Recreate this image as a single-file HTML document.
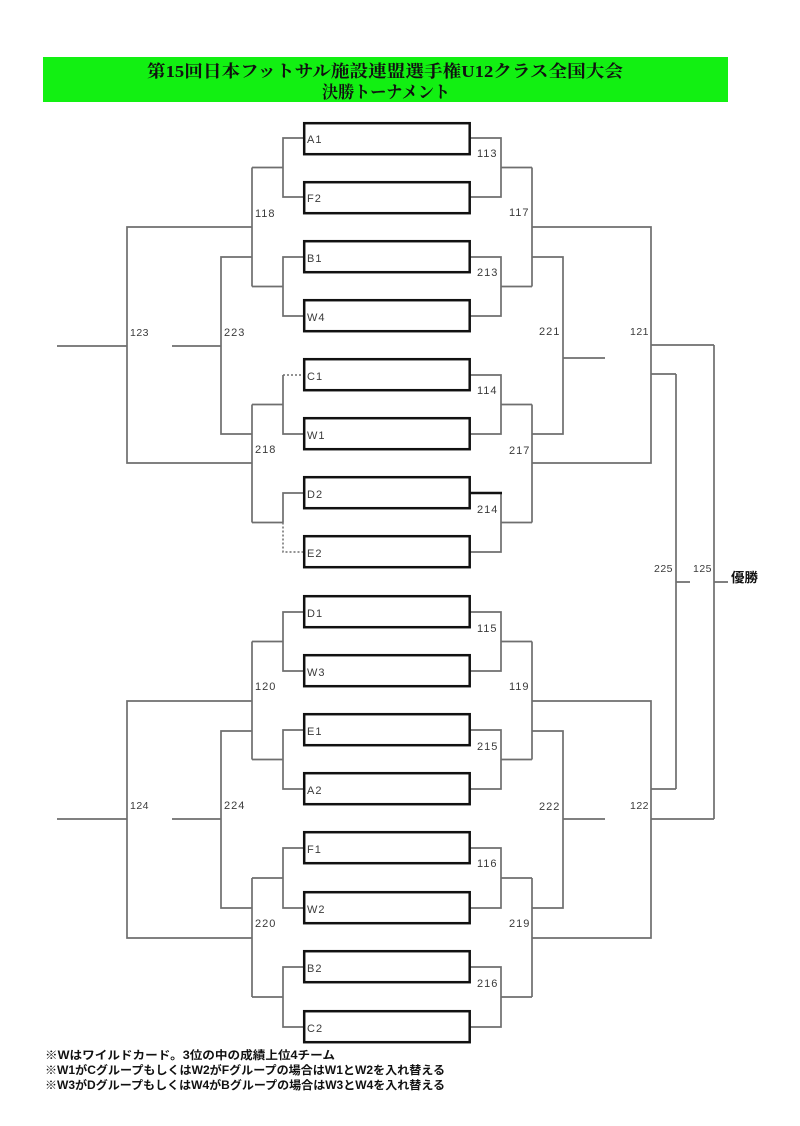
<!DOCTYPE html>
<html><head><meta charset="utf-8"><style>
html,body{margin:0;padding:0;background:#fff;}
svg{display:block;}
.ln{fill:none;stroke:#6e6e6e;stroke-width:1.7;}
.dt{fill:none;stroke:#6e6e6e;stroke-width:1.5;stroke-dasharray:2 2;}
.bx{fill:#fff;stroke:#111;stroke-width:2.5;}
.lb{font-family:"Liberation Sans",sans-serif;font-size:11px;fill:#3a3a3a;letter-spacing:1px;}
.nm{font-family:"Liberation Sans",sans-serif;font-size:11px;fill:#3a3a3a;letter-spacing:1px;}
.nm2{font-family:"Liberation Sans",sans-serif;font-size:10.5px;fill:#3a3a3a;letter-spacing:0.5px;}
.tt{font-family:"Liberation Serif","Noto Serif CJK SC",serif;font-weight:bold;font-size:17px;fill:#111;}
.nt{font-family:"Liberation Sans","Noto Sans CJK JP",sans-serif;font-weight:bold;font-size:11.5px;fill:#111;}
</style></head><body>
<svg width="800" height="1126" viewBox="0 0 800 1126" xmlns="http://www.w3.org/2000/svg">
<!-- title -->
<rect x="43" y="57" width="685" height="45" fill="#12f012"/>
<text class="tt" x="147" y="77" textLength="476" lengthAdjust="spacingAndGlyphs">第15回日本フットサル施設連盟選手権U12クラス全国大会</text>
<text class="tt" x="322" y="98" textLength="128" lengthAdjust="spacingAndGlyphs">決勝トーナメント</text>

<!-- left connectors -->
<path class="ln" d="M304,138 H283 V197 H304 M283,167.5 H252
M304,257 H283 V316 H304 M283,286.5 H252
M252,167.5 V286.5
M283,375 V434 H304 M283,404.5 H252
M304,493 H283 V522.5 M283,522.5 H252
M252,404.5 V522.5
M252,227 H127 V463 H252 M57,346 H127
M252,257 H221 V434 H252 M172,346 H221
M304,612 H283 V671 H304 M283,641.5 H252
M304,730 H283 V789 H304 M283,759.5 H252
M252,641.5 V759.5
M304,848 H283 V908 H304 M283,878 H252
M304,967 H283 V1027 H304 M283,997 H252
M252,878 V997
M252,701 H127 V938 H252 M57,819 H127
M252,731 H221 V908 H252 M172,819 H221"/>
<path class="dt" d="M283,375 H304 M283,522.5 V552 H304"/>

<!-- right connectors -->
<path class="ln" d="M470,138 H501 V197 H470 M501,167.5 H532
M470,257 H501 V316 H470 M501,286.5 H532
M532,167.5 V286.5
M470,375 H501 V434 H470 M501,404.5 H532
M501,493 V552 H470 M501,522.5 H532
M532,404.5 V522.5
M532,227 H651 V463 H532 M651,345 H714 M651,374 H676
M532,257 H563 V434 H532 M563,358 H605
M470,612 H501 V671 H470 M501,641.5 H532
M470,730 H501 V789 H470 M501,759.5 H532
M532,641.5 V759.5
M470,848 H501 V908 H470 M501,878 H532
M470,967 H501 V1027 H470 M501,997 H532
M532,878 V997
M532,701 H651 V938 H532 M651,789 H676 M651,819 H714
M532,731 H563 V908 H532 M563,819 H605
M676,374 V789 M676,582 H690
M714,345 V819 M714,582 H728"/>
<path d="M470,493 H502" stroke="#111" stroke-width="2.4" fill="none"/>

<!-- boxes -->
<g>
<rect class="bx" x="304.2" y="123.2" width="165.5" height="31"/>
<rect class="bx" x="304.2" y="182.2" width="165.5" height="31"/>
<rect class="bx" x="304.2" y="241.2" width="165.5" height="31"/>
<rect class="bx" x="304.2" y="300.2" width="165.5" height="31"/>
<rect class="bx" x="304.2" y="359.2" width="165.5" height="31"/>
<rect class="bx" x="304.2" y="418.2" width="165.5" height="31"/>
<rect class="bx" x="304.2" y="477.2" width="165.5" height="31"/>
<rect class="bx" x="304.2" y="536.2" width="165.5" height="31"/>
<rect class="bx" x="304.2" y="596.2" width="165.5" height="31"/>
<rect class="bx" x="304.2" y="655.2" width="165.5" height="31"/>
<rect class="bx" x="304.2" y="714.2" width="165.5" height="31"/>
<rect class="bx" x="304.2" y="773.2" width="165.5" height="31"/>
<rect class="bx" x="304.2" y="832.2" width="165.5" height="31"/>
<rect class="bx" x="304.2" y="892.2" width="165.5" height="31"/>
<rect class="bx" x="304.2" y="951.2" width="165.5" height="31"/>
<rect class="bx" x="304.2" y="1011.2" width="165.5" height="31"/>
</g>
<g class="lb">
<text class="lb" x="307" y="143">A1</text>
<text class="lb" x="307" y="202">F2</text>
<text class="lb" x="307" y="262">B1</text>
<text class="lb" x="307" y="321">W4</text>
<text class="lb" x="307" y="380">C1</text>
<text class="lb" x="307" y="439">W1</text>
<text class="lb" x="307" y="498">D2</text>
<text class="lb" x="307" y="557">E2</text>
<text class="lb" x="307" y="617">D1</text>
<text class="lb" x="307" y="676">W3</text>
<text class="lb" x="307" y="735">E1</text>
<text class="lb" x="307" y="794">A2</text>
<text class="lb" x="307" y="853">F1</text>
<text class="lb" x="307" y="913">W2</text>
<text class="lb" x="307" y="972">B2</text>
<text class="lb" x="307" y="1032">C2</text>
</g>

<!-- match numbers -->
<text class="nm" x="477" y="157">113</text>
<text class="nm" x="477" y="276">213</text>
<text class="nm" x="477" y="394">114</text>
<text class="nm" x="477" y="513">214</text>
<text class="nm" x="477" y="632">115</text>
<text class="nm" x="477" y="750">215</text>
<text class="nm" x="477" y="867">116</text>
<text class="nm" x="477" y="987">216</text>
<text class="nm" x="509" y="216">117</text>
<text class="nm" x="509" y="454">217</text>
<text class="nm" x="509" y="690">119</text>
<text class="nm" x="509" y="927">219</text>
<text class="nm" x="255" y="217">118</text>
<text class="nm" x="255" y="453">218</text>
<text class="nm" x="255" y="690">120</text>
<text class="nm" x="255" y="927">220</text>
<text class="nm2" x="130" y="336">123</text>
<text class="nm2" x="130" y="809">124</text>
<text class="nm" x="224" y="336">223</text>
<text class="nm" x="224" y="809">224</text>
<text class="nm" x="539" y="335">221</text>
<text class="nm" x="539" y="810">222</text>
<text class="nm2" x="630" y="335">121</text>
<text class="nm2" x="630" y="809">122</text>
<text class="nm2" x="654" y="572">225</text>
<text class="nm2" x="693" y="572">125</text>
<text x="731" y="582" style="font-family:'Liberation Sans','Noto Sans CJK JP',sans-serif;font-weight:bold;font-size:13px;fill:#111;" textLength="27" lengthAdjust="spacingAndGlyphs">優勝</text>

<!-- notes -->
<text class="nt" x="45" y="1059" textLength="290" lengthAdjust="spacingAndGlyphs">※Wはワイルドカード。3位の中の成績上位4チーム</text>
<text class="nt" x="45" y="1074" textLength="400" lengthAdjust="spacingAndGlyphs">※W1がCグループもしくはW2がFグループの場合はW1とW2を入れ替える</text>
<text class="nt" x="45" y="1089" textLength="400" lengthAdjust="spacingAndGlyphs">※W3がDグループもしくはW4がBグループの場合はW3とW4を入れ替える</text>
</svg>
</body></html>
